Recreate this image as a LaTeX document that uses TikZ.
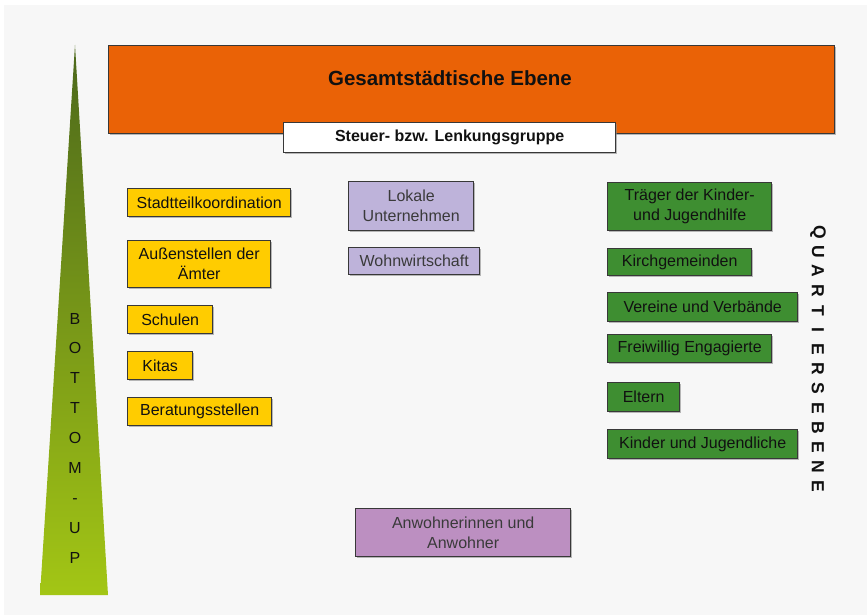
\documentclass[tikz,border=0pt]{standalone}
\usepackage{fontspec}
\setmainfont{Liberation Sans}
\usetikzlibrary{shadows}
\definecolor{bgc}{HTML}{F7F7F7}
\definecolor{orangec}{HTML}{EA6206}
\definecolor{yelc}{HTML}{FFCC00}
\definecolor{greenc}{HTML}{3E8E31}
\definecolor{lavc}{HTML}{BEB3DA}
\definecolor{pinkc}{HTML}{BC8FC1}
\definecolor{bordc}{HTML}{383838}
\definecolor{tritop}{HTML}{4C681B}
\definecolor{trimid}{HTML}{74981F}
\definecolor{tribot}{HTML}{A3C615}
\definecolor{txtc}{HTML}{111111}
\definecolor{greytxt}{HTML}{3A3A3A}
\begin{document}
\begin{tikzpicture}[x=1pt,y=-1pt,
  box/.style={draw=bordc, line width=1.4pt, inner sep=0pt, anchor=north west,
    font=\fontsize{16}{20}\selectfont, align=center, text=txtc,
    drop shadow={shadow xshift=1pt, shadow yshift=-1pt, fill=black!45, opacity=0.6}},
  lbl/.style={inner sep=0pt, font=\fontsize{16}{20}\selectfont, text=txtc},
  qlbl/.style={inner sep=0pt, font=\bfseries\fontsize{17.5}{18}\selectfont, rotate=-90, text=txtc}]
\useasboundingbox (0,0) rectangle (867,615);
\fill[white] (0,0) rectangle (867,615);
\fill[bgc] (4,5) rectangle (867,615);

% Bottom-up triangle
\shade[top color=tritop, middle color=trimid, bottom color=tribot]
  (75,45) -- (108,595) -- (40,595) -- cycle;
\foreach \l [count=\i from 0] in {B,O,T,T,O,M,-,U,P}
  \node[lbl, anchor=base] (bu\i) at (75,{324+\i*29.9}) {\l};

% top boxes
\node[box, fill=orangec, minimum width=726pt, minimum height=88pt] (ges) at (108,45) {};
\node[inner sep=0pt, font=\bfseries\fontsize{20.5}{24}\selectfont, text=txtc] (gestxt) at (450,78) {Gesamtstädtische Ebene};
\node[box, fill=white, minimum width=332pt, minimum height=30pt,
  font=\bfseries\fontsize{16}{18}\selectfont] (steuer) at (283,122) {Steuer- bzw. Lenkungsgruppe};

% yellow column
\node[box, fill=yelc, minimum width=163pt, minimum height=28pt] (stk) at (127,188) {Stadtteilkoordination};
\node[box, fill=yelc, minimum width=143pt, minimum height=47pt] (aus) at (127,240) {Außenstellen der\\Ämter};
\node[box, fill=yelc, minimum width=85pt, minimum height=28pt] (sch) at (127,305) {Schulen};
\node[box, fill=yelc, minimum width=65pt, minimum height=28pt] (kit) at (127,351) {Kitas};
\node[box, fill=yelc, minimum width=144pt, minimum height=28pt] (ber) at (127,397) {Beratungsstellen};

% lavender column
\node[box, fill=lavc, text=greytxt, minimum width=125pt, minimum height=49pt] (lok) at (348,181) {Lokale\\Unternehmen};
\node[box, fill=lavc, text=greytxt, minimum width=131pt, minimum height=27pt] (woh) at (348,247) {Wohnwirtschaft};

% green column
\node[box, fill=greenc, minimum width=164pt, minimum height=48pt] (tra) at (607,182) {Träger der Kinder-\\und Jugendhilfe};
\node[box, fill=greenc, minimum width=144pt, minimum height=27pt] (kir) at (607,248) {Kirchgemeinden};
\node[box, fill=greenc, minimum width=190pt, minimum height=29pt] (ver) at (607,292) {Vereine und Verbände};
\node[box, fill=greenc, minimum width=164pt, minimum height=28pt] (fre) at (607,334) {Freiwillig Engagierte};
\node[box, fill=greenc, minimum width=72pt, minimum height=29pt] (elt) at (607,382) {Eltern};
\node[box, fill=greenc, minimum width=190pt, minimum height=29pt] (kin) at (607,429) {Kinder und Jugendliche};

% residents
\node[box, fill=pinkc, text=greytxt, minimum width=215pt, minimum height=48pt] (anw) at (355,508) {Anwohnerinnen und\\Anwohner};

% Quartiersebene
\foreach \l [count=\i from 0] in {Q,U,A,R,T,I,E,R,S,E,B,E,N,E}
  \node[qlbl] (q\i) at (818,{232+\i*19.6}) {\l};
\end{tikzpicture}
\end{document}
